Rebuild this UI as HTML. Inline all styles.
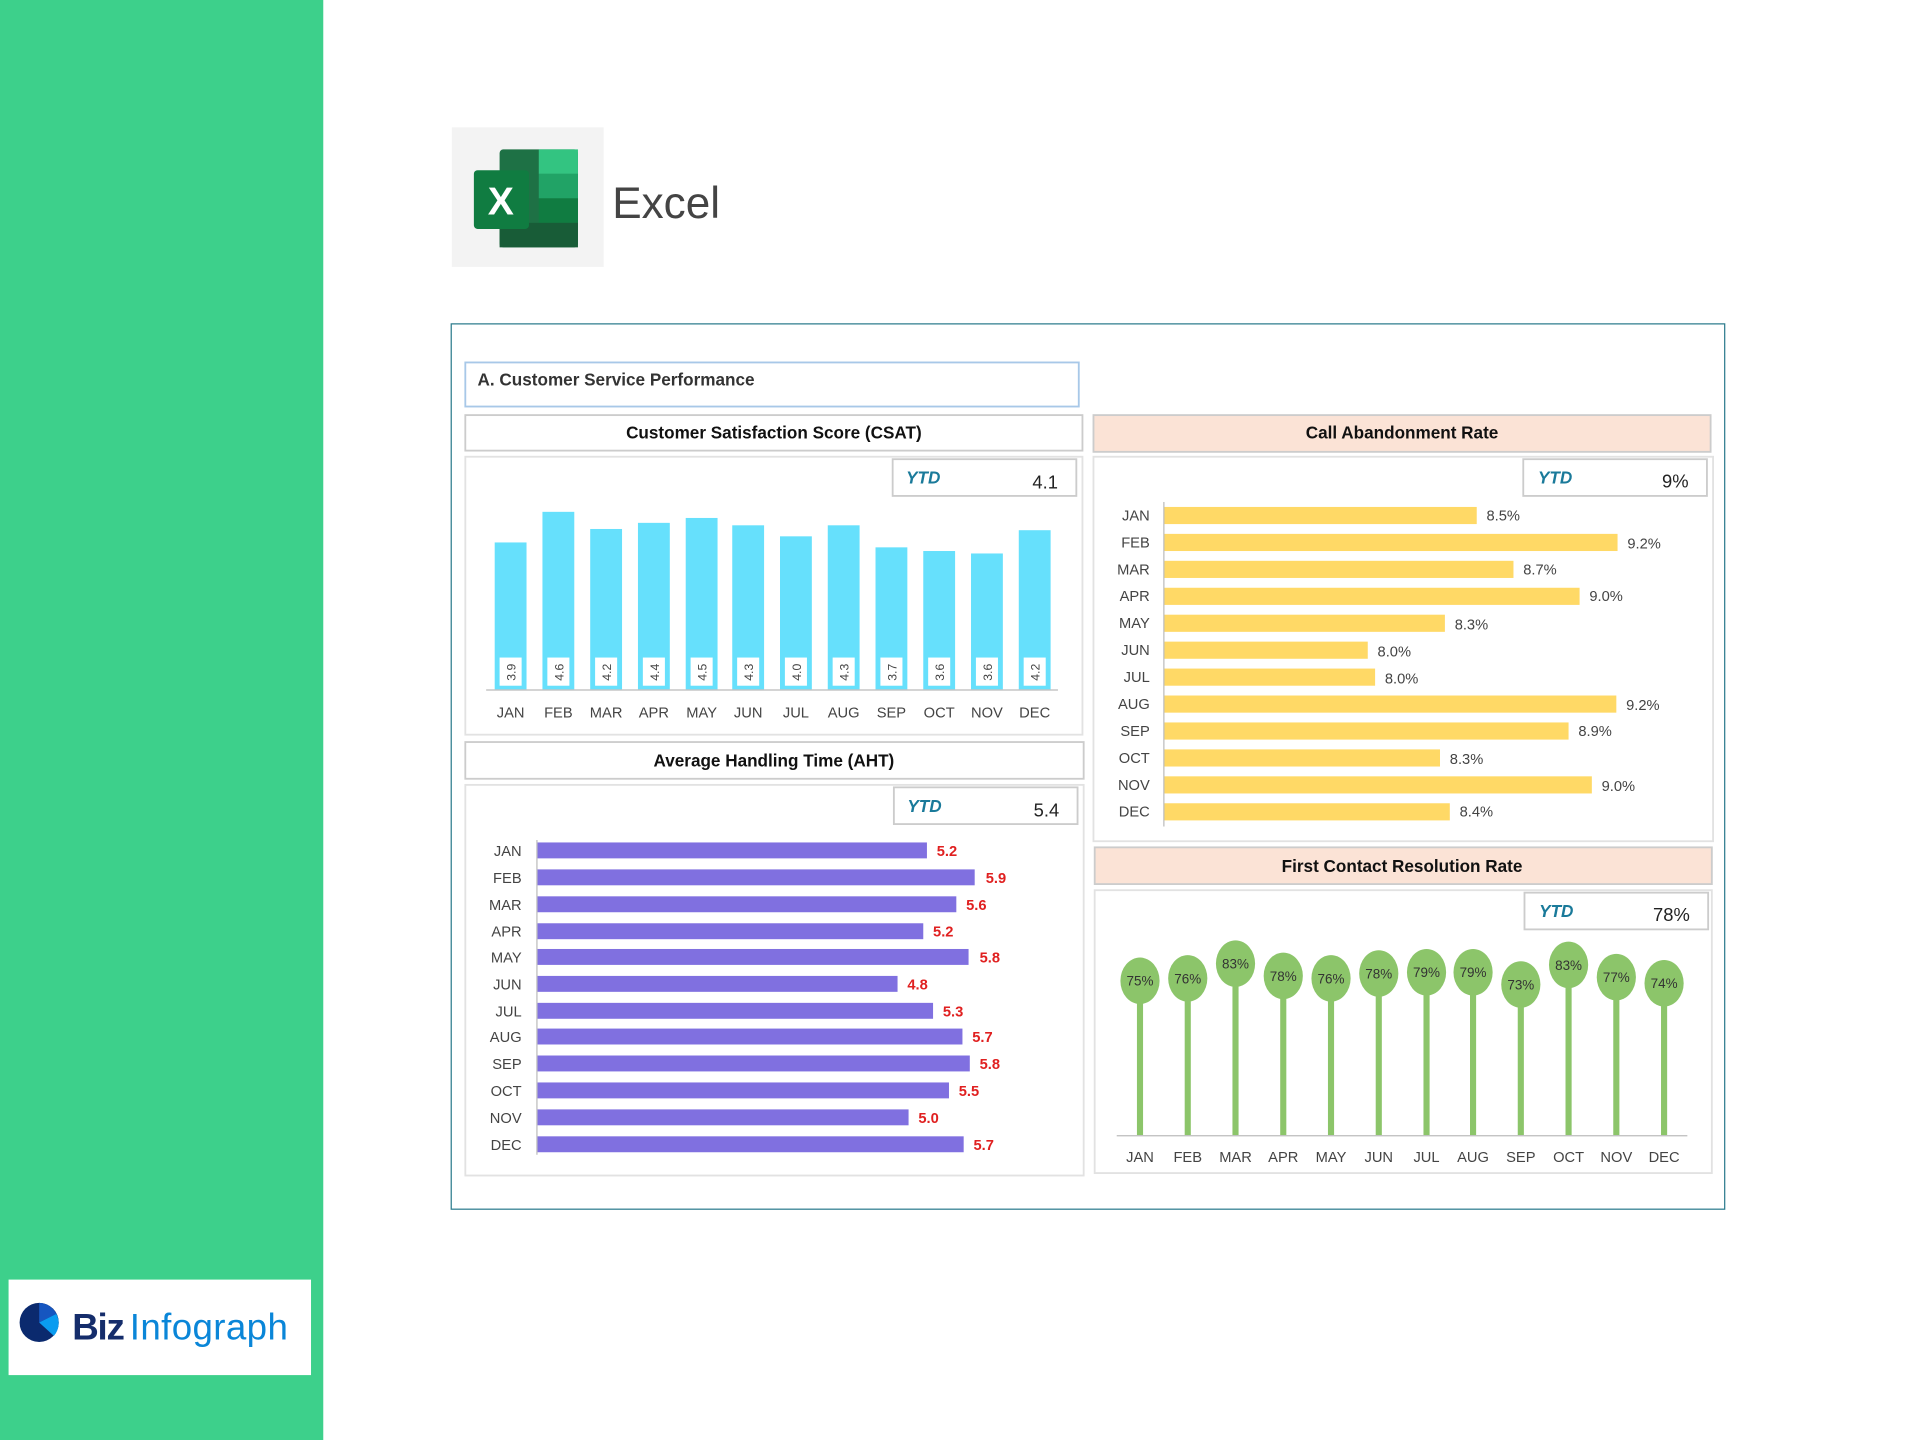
<!DOCTYPE html>
<html><head><meta charset="utf-8"><style>
html,body{margin:0;padding:0;background:#fff}
svg{display:block}
text{font-family:"Liberation Sans",sans-serif}
.m{font-size:12px;fill:#444}
.t{font-size:14px;font-weight:bold;fill:#111}
.y{font-size:14px;font-weight:bold;font-style:italic;fill:#1a7a9a}
.v{font-size:15px;fill:#222}
.r{font-size:12px;fill:#e02020;font-weight:bold}
.p{font-size:12px;fill:#444}
.c{font-size:11px;fill:#333}
</style></head><body>
<svg width="1920" height="1440" viewBox="0 0 1568 1176" xmlns="http://www.w3.org/2000/svg">
<rect x="0" y="0" width="264" height="1176" fill="#3dd08b"/>
<rect x="7" y="1045" width="247" height="78" fill="#fff"/>
<circle cx="32" cy="1080" r="16" fill="#0b2a6e"/>
<path d="M32 1080 L32 1064 A16 16 0 0 1 46 1073 Z" fill="#1656c0"/>
<path d="M32 1080 L46 1073 A16 16 0 0 1 44 1091 Z" fill="#0a9cf0"/>
<text x="59" y="1094" font-size="30" font-weight="bold" fill="#152d6b" style="letter-spacing:-1px">Biz</text>
<text x="106" y="1094" font-size="30" fill="#0a86d8" style="letter-spacing:0.3px">Infograph</text>

<rect x="369" y="104" width="124" height="114" fill="#f3f3f3"/>
<rect x="408" y="122" width="64" height="80" rx="3" fill="#1e7145"/>
<rect x="440" y="122" width="32" height="20" fill="#33c481"/>
<rect x="440" y="142" width="32" height="20" fill="#21a366"/>
<rect x="440" y="162" width="32" height="20" fill="#107c41"/>
<rect x="408" y="182" width="64" height="20" fill="#185c37"/>
<rect x="387" y="139" width="45" height="48" rx="3" fill="#107c41"/>
<text x="409" y="175" font-size="32" font-weight="bold" fill="#fff" text-anchor="middle">X</text>
<text x="500" y="178" font-size="36" fill="#444">Excel</text>

<rect x="368.5" y="264.5" width="1040" height="723" fill="#fff" stroke="#2a7a8c" stroke-width="1"/>
<rect x="380" y="296" width="501" height="36" fill="#fff" stroke="#a8c8e8" stroke-width="1.5"/>
<text x="390" y="315" class="t" style="fill:#333">A. Customer Service Performance</text>

<!-- CSAT -->
<rect x="380" y="339" width="504" height="29" fill="#fff" stroke="#ccc" stroke-width="1.5"/>
<text x="632" y="358" class="t" text-anchor="middle">Customer Satisfaction Score (CSAT)</text>
<rect x="380" y="373" width="504" height="227" fill="#fff" stroke="#e2e2e2" stroke-width="1.5"/>
<rect x="729" y="375" width="150" height="30" fill="#fff" stroke="#ccc" stroke-width="1.5"/>
<text x="740" y="395" class="y">YTD</text><text x="864" y="399" class="v" text-anchor="end">4.1</text>
<g fill="#66e0fc">
<rect x="404" y="443" width="26" height="120"/><rect x="443" y="418" width="26" height="145"/>
<rect x="482" y="432" width="26" height="131"/><rect x="521" y="427" width="26" height="136"/>
<rect x="560" y="423" width="26" height="140"/><rect x="598" y="429" width="26" height="134"/>
<rect x="637" y="438" width="26" height="125"/><rect x="676" y="429" width="26" height="134"/>
<rect x="715" y="447" width="26" height="116"/><rect x="754" y="450" width="26" height="113"/>
<rect x="793" y="452" width="26" height="111"/><rect x="832" y="433" width="26" height="130"/>
</g>
<g fill="#fff">
<rect x="408" y="537" width="18" height="23"/><rect x="447" y="537" width="18" height="23"/>
<rect x="486" y="537" width="18" height="23"/><rect x="525" y="537" width="18" height="23"/>
<rect x="564" y="537" width="18" height="23"/><rect x="602" y="537" width="18" height="23"/>
<rect x="641" y="537" width="18" height="23"/><rect x="680" y="537" width="18" height="23"/>
<rect x="719" y="537" width="18" height="23"/><rect x="758" y="537" width="18" height="23"/>
<rect x="797" y="537" width="18" height="23"/><rect x="836" y="537" width="18" height="23"/>
</g>
<g font-size="10" fill="#444" text-anchor="middle">
<text transform="translate(421,549) rotate(-90)">3.9</text>
<text transform="translate(460,549) rotate(-90)">4.6</text>
<text transform="translate(499,549) rotate(-90)">4.2</text>
<text transform="translate(538,549) rotate(-90)">4.4</text>
<text transform="translate(577,549) rotate(-90)">4.5</text>
<text transform="translate(615,549) rotate(-90)">4.3</text>
<text transform="translate(654,549) rotate(-90)">4.0</text>
<text transform="translate(693,549) rotate(-90)">4.3</text>
<text transform="translate(732,549) rotate(-90)">3.7</text>
<text transform="translate(771,549) rotate(-90)">3.6</text>
<text transform="translate(810,549) rotate(-90)">3.6</text>
<text transform="translate(849,549) rotate(-90)">4.2</text>
</g>
<line x1="397" y1="563.5" x2="864" y2="563.5" stroke="#bbb"/>
<g class="m" text-anchor="middle">
<text x="417" y="586" class="m">JAN</text><text x="456" y="586" class="m">FEB</text><text x="495" y="586" class="m">MAR</text>
<text x="534" y="586" class="m">APR</text><text x="573" y="586" class="m">MAY</text><text x="611" y="586" class="m">JUN</text>
<text x="650" y="586" class="m">JUL</text><text x="689" y="586" class="m">AUG</text><text x="728" y="586" class="m">SEP</text>
<text x="767" y="586" class="m">OCT</text><text x="806" y="586" class="m">NOV</text><text x="845" y="586" class="m">DEC</text>
</g>

<!-- AHT -->
<rect x="380" y="606" width="505" height="30" fill="#fff" stroke="#ccc" stroke-width="1.5"/>
<text x="632" y="626" class="t" text-anchor="middle">Average Handling Time (AHT)</text>
<rect x="380" y="641" width="505" height="319" fill="#fff" stroke="#e2e2e2" stroke-width="1.5"/>
<rect x="730" y="643" width="150" height="30" fill="#fff" stroke="#ccc" stroke-width="1.5"/>
<text x="741" y="663" class="y">YTD</text><text x="865" y="667" class="v" text-anchor="end">5.4</text>
<line x1="438.5" y1="686" x2="438.5" y2="943" stroke="#bbb"/>
<g fill="#8070e0">
<rect x="439" y="688" width="318" height="13"/><rect x="439" y="710" width="357" height="13"/>
<rect x="439" y="732" width="342" height="13"/><rect x="439" y="754" width="315" height="13"/>
<rect x="439" y="775" width="352" height="13"/><rect x="439" y="797" width="294" height="13"/>
<rect x="439" y="819" width="323" height="13"/><rect x="439" y="840" width="347" height="13"/>
<rect x="439" y="862" width="353" height="13"/><rect x="439" y="884" width="336" height="13"/>
<rect x="439" y="906" width="303" height="13"/><rect x="439" y="928" width="348" height="13"/>
</g>
<g text-anchor="end">
<text x="426" y="699" class="m">JAN</text><text x="426" y="721" class="m">FEB</text><text x="426" y="743" class="m">MAR</text>
<text x="426" y="765" class="m">APR</text><text x="426" y="786" class="m">MAY</text><text x="426" y="808" class="m">JUN</text>
<text x="426" y="830" class="m">JUL</text><text x="426" y="851" class="m">AUG</text><text x="426" y="873" class="m">SEP</text>
<text x="426" y="895" class="m">OCT</text><text x="426" y="917" class="m">NOV</text><text x="426" y="939" class="m">DEC</text>
</g>
<text x="765" y="699" class="r">5.2</text><text x="805" y="721" class="r">5.9</text><text x="789" y="743" class="r">5.6</text>
<text x="762" y="765" class="r">5.2</text><text x="800" y="786" class="r">5.8</text><text x="741" y="808" class="r">4.8</text>
<text x="770" y="830" class="r">5.3</text><text x="794" y="851" class="r">5.7</text><text x="800" y="873" class="r">5.8</text>
<text x="783" y="895" class="r">5.5</text><text x="750" y="917" class="r">5.0</text><text x="795" y="939" class="r">5.7</text>

<!-- Call Abandonment -->
<rect x="893" y="339" width="504" height="30" fill="#fbe3d6" stroke="#ccc" stroke-width="1.5"/>
<text x="1145" y="358" class="t" text-anchor="middle">Call Abandonment Rate</text>
<rect x="893" y="373" width="506" height="314" fill="#fff" stroke="#e2e2e2" stroke-width="1.5"/>
<rect x="1244" y="375" width="150" height="30" fill="#fff" stroke="#ccc" stroke-width="1.5"/>
<text x="1256" y="395" class="y">YTD</text><text x="1379" y="398" class="v" text-anchor="end">9%</text>
<line x1="950.5" y1="410" x2="950.5" y2="675" stroke="#bbb"/>
<g fill="#ffd966">
<rect x="951" y="414" width="255" height="14"/><rect x="951" y="436" width="370" height="14"/>
<rect x="951" y="458" width="285" height="14"/><rect x="951" y="480" width="339" height="14"/>
<rect x="951" y="502" width="229" height="14"/><rect x="951" y="524" width="166" height="14"/>
<rect x="951" y="546" width="172" height="14"/><rect x="951" y="568" width="369" height="14"/>
<rect x="951" y="590" width="330" height="14"/><rect x="951" y="612" width="225" height="14"/>
<rect x="951" y="634" width="349" height="14"/><rect x="951" y="656" width="233" height="14"/>
</g>
<g text-anchor="end">
<text x="939" y="425" class="m">JAN</text><text x="939" y="447" class="m">FEB</text><text x="939" y="469" class="m">MAR</text>
<text x="939" y="491" class="m">APR</text><text x="939" y="513" class="m">MAY</text><text x="939" y="535" class="m">JUN</text>
<text x="939" y="557" class="m">JUL</text><text x="939" y="579" class="m">AUG</text><text x="939" y="601" class="m">SEP</text>
<text x="939" y="623" class="m">OCT</text><text x="939" y="645" class="m">NOV</text><text x="939" y="667" class="m">DEC</text>
</g>
<text x="1214" y="425" class="p">8.5%</text><text x="1329" y="448" class="p">9.2%</text><text x="1244" y="469" class="p">8.7%</text>
<text x="1298" y="491" class="p">9.0%</text><text x="1188" y="514" class="p">8.3%</text><text x="1125" y="536" class="p">8.0%</text>
<text x="1131" y="558" class="p">8.0%</text><text x="1328" y="580" class="p">9.2%</text><text x="1289" y="601" class="p">8.9%</text>
<text x="1184" y="624" class="p">8.3%</text><text x="1308" y="646" class="p">9.0%</text><text x="1192" y="667" class="p">8.4%</text>

<!-- FCR -->
<rect x="894" y="692" width="504" height="30" fill="#fbe3d6" stroke="#ccc" stroke-width="1.5"/>
<text x="1145" y="712" class="t" text-anchor="middle">First Contact Resolution Rate</text>
<rect x="894" y="727" width="504" height="231" fill="#fff" stroke="#e2e2e2" stroke-width="1.5"/>
<rect x="1245" y="729" width="150" height="30" fill="#fff" stroke="#ccc" stroke-width="1.5"/>
<text x="1257" y="749" class="y">YTD</text><text x="1380" y="752" class="v" text-anchor="end">78%</text>
<g stroke="#8cc56a" stroke-width="5">
<line x1="931" y1="801" x2="931" y2="927"/><line x1="970" y1="799" x2="970" y2="927"/>
<line x1="1009" y1="787" x2="1009" y2="927"/><line x1="1048" y1="797" x2="1048" y2="927"/>
<line x1="1087" y1="799" x2="1087" y2="927"/><line x1="1126" y1="795" x2="1126" y2="927"/>
<line x1="1165" y1="794" x2="1165" y2="927"/><line x1="1203" y1="794" x2="1203" y2="927"/>
<line x1="1242" y1="804" x2="1242" y2="927"/><line x1="1281" y1="788" x2="1281" y2="927"/>
<line x1="1320" y1="798" x2="1320" y2="927"/><line x1="1359" y1="803" x2="1359" y2="927"/>
</g>
<g fill="#8cc56a">
<ellipse cx="931" cy="801" rx="16" ry="19"/><ellipse cx="970" cy="799" rx="16" ry="19"/>
<ellipse cx="1009" cy="787" rx="16" ry="19"/><ellipse cx="1048" cy="797" rx="16" ry="19"/>
<ellipse cx="1087" cy="799" rx="16" ry="19"/><ellipse cx="1126" cy="795" rx="16" ry="19"/>
<ellipse cx="1165" cy="794" rx="16" ry="19"/><ellipse cx="1203" cy="794" rx="16" ry="19"/>
<ellipse cx="1242" cy="804" rx="16" ry="19"/><ellipse cx="1281" cy="788" rx="16" ry="19"/>
<ellipse cx="1320" cy="798" rx="16" ry="19"/><ellipse cx="1359" cy="803" rx="16" ry="19"/>
</g>
<g text-anchor="middle">
<text x="931" y="805" class="c">75%</text><text x="970" y="803" class="c">76%</text><text x="1009" y="791" class="c">83%</text>
<text x="1048" y="801" class="c">78%</text><text x="1087" y="803" class="c">76%</text><text x="1126" y="799" class="c">78%</text>
<text x="1165" y="798" class="c">79%</text><text x="1203" y="798" class="c">79%</text><text x="1242" y="808" class="c">73%</text>
<text x="1281" y="792" class="c">83%</text><text x="1320" y="802" class="c">77%</text><text x="1359" y="807" class="c">74%</text>
</g>
<line x1="912" y1="927.5" x2="1378" y2="927.5" stroke="#bbb"/>
<g text-anchor="middle">
<text x="931" y="949" class="m">JAN</text><text x="970" y="949" class="m">FEB</text><text x="1009" y="949" class="m">MAR</text>
<text x="1048" y="949" class="m">APR</text><text x="1087" y="949" class="m">MAY</text><text x="1126" y="949" class="m">JUN</text>
<text x="1165" y="949" class="m">JUL</text><text x="1203" y="949" class="m">AUG</text><text x="1242" y="949" class="m">SEP</text>
<text x="1281" y="949" class="m">OCT</text><text x="1320" y="949" class="m">NOV</text><text x="1359" y="949" class="m">DEC</text>
</g>
</svg>
</body></html>
